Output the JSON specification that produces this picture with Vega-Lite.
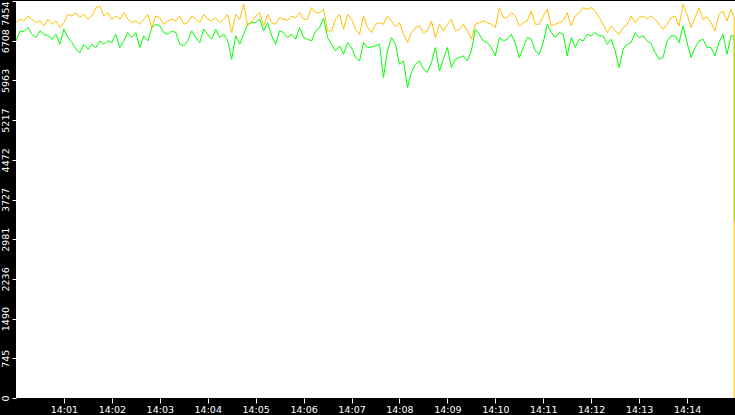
{
  "$schema": "https://vega.github.io/schema/vega-lite/v6.json",
  "width": 735,
  "height": 415,
  "autosize": {"type": "fit", "contains": "padding"},
  "padding": 0,
  "background": "black",
  "config": {
    "view": {"fill": "white", "stroke": null},
    "axis": {"grid": false, "domain": false, "title": null, "labelColor": "white", "tickColor": "white", "labelFont": "DejaVu Sans", "labelFontSize": 9.5, "labelOverlap": false}
  },
  "data": {
    "values": [
      {"s":0,"o":7048,"g":6705},{"s":5,"o":7111,"g":6892},{"s":10,"o":7079,"g":6880},{"s":15,"o":7173,"g":6955},
      {"s":20,"o":7111,"g":6830},{"s":25,"o":7048,"g":6767},{"s":30,"o":7079,"g":6892},{"s":35,"o":6986,"g":6830},
      {"s":40,"o":7111,"g":6799},{"s":45,"o":7017,"g":6736},{"s":50,"o":7079,"g":6830},{"s":55,"o":6955,"g":6642},
      {"s":60,"o":7048,"g":6924},{"s":65,"o":7204,"g":6767},{"s":70,"o":7173,"g":6674},{"s":75,"o":7235,"g":6549},
      {"s":80,"o":7142,"g":6486},{"s":85,"o":7204,"g":6642},{"s":90,"o":7111,"g":6549},{"s":95,"o":7173,"g":6642},
      {"s":100,"o":7329,"g":6580},{"s":105,"o":7360,"g":6705},{"s":110,"o":7173,"g":6642},{"s":115,"o":7235,"g":6705},
      {"s":120,"o":7111,"g":6674},{"s":125,"o":7173,"g":6830},{"s":130,"o":7111,"g":6580},{"s":135,"o":7235,"g":6705},
      {"s":140,"o":7111,"g":6861},{"s":145,"o":7048,"g":6767},{"s":150,"o":7079,"g":6861},{"s":155,"o":7017,"g":6580},
      {"s":160,"o":7111,"g":6799},{"s":165,"o":7204,"g":6705},{"s":170,"o":6955,"g":6955},{"s":175,"o":7173,"g":7017},
      {"s":180,"o":7142,"g":6986},{"s":185,"o":7017,"g":6861},{"s":190,"o":7079,"g":6830},{"s":195,"o":7111,"g":6892},
      {"s":200,"o":7079,"g":6861},{"s":205,"o":7173,"g":6642},{"s":210,"o":7017,"g":6611},{"s":215,"o":7048,"g":6705},
      {"s":220,"o":7173,"g":6892},{"s":225,"o":7111,"g":6767},{"s":230,"o":7048,"g":6674},{"s":235,"o":7204,"g":6924},
      {"s":240,"o":7111,"g":6830},{"s":245,"o":7079,"g":6736},{"s":250,"o":7142,"g":6924},{"s":255,"o":7048,"g":6767},
      {"s":260,"o":7111,"g":6830},{"s":265,"o":7204,"g":6705},{"s":270,"o":6861,"g":6361},{"s":275,"o":7204,"g":6799},
      {"s":280,"o":7111,"g":6642},{"s":285,"o":7392,"g":6830},{"s":290,"o":6986,"g":7017},{"s":295,"o":7079,"g":7048},
      {"s":300,"o":7173,"g":7048},{"s":305,"o":7235,"g":7111},{"s":310,"o":6986,"g":6892},{"s":315,"o":7204,"g":7048},
      {"s":320,"o":7048,"g":6799},{"s":325,"o":7017,"g":6642},{"s":330,"o":7142,"g":6892},{"s":335,"o":7111,"g":6861},
      {"s":340,"o":7092,"g":6767},{"s":345,"o":7173,"g":6830},{"s":350,"o":7142,"g":6736},{"s":355,"o":7235,"g":6955},
      {"s":360,"o":7111,"g":6767},{"s":365,"o":7111,"g":6736},{"s":370,"o":7329,"g":6705},{"s":375,"o":7235,"g":6892},
      {"s":380,"o":7235,"g":6955},{"s":385,"o":7298,"g":7129},{"s":390,"o":6892,"g":6767},{"s":395,"o":6892,"g":6642},
      {"s":400,"o":7111,"g":6518},{"s":405,"o":7204,"g":6611},{"s":410,"o":6924,"g":6455},{"s":415,"o":7204,"g":6674},
      {"s":420,"o":7111,"g":6580},{"s":425,"o":6924,"g":6393},{"s":430,"o":6830,"g":6330},{"s":435,"o":7173,"g":6674},
      {"s":440,"o":6955,"g":6580},{"s":445,"o":6861,"g":6592},{"s":450,"o":7017,"g":6611},{"s":455,"o":7048,"g":6642},
      {"s":460,"o":7017,"g":6018},{"s":465,"o":7173,"g":6518},{"s":470,"o":7079,"g":6767},{"s":475,"o":6967,"g":6642},
      {"s":480,"o":7048,"g":6268},{"s":485,"o":6830,"g":6330},{"s":490,"o":6674,"g":5831},{"s":495,"o":6861,"g":6112},
      {"s":500,"o":6955,"g":6268},{"s":505,"o":6986,"g":6330},{"s":510,"o":6861,"g":6174},{"s":515,"o":6892,"g":6112},
      {"s":520,"o":7079,"g":6299},{"s":525,"o":6767,"g":6580},{"s":530,"o":7017,"g":6143},{"s":535,"o":6892,"g":6361},
      {"s":540,"o":7017,"g":6580},{"s":545,"o":7111,"g":6205},{"s":550,"o":6892,"g":6361},{"s":555,"o":6924,"g":6393},
      {"s":560,"o":7017,"g":6424},{"s":565,"o":6892,"g":6330},{"s":570,"o":6736,"g":6518},{"s":575,"o":7017,"g":6924},
      {"s":580,"o":7048,"g":6830},{"s":585,"o":7079,"g":6705},{"s":590,"o":7048,"g":6674},{"s":595,"o":7017,"g":6580},
      {"s":600,"o":6955,"g":6424},{"s":605,"o":7329,"g":6767},{"s":610,"o":7142,"g":6705},{"s":615,"o":7142,"g":6736},
      {"s":620,"o":7235,"g":6830},{"s":625,"o":7173,"g":6655},{"s":630,"o":6986,"g":6393},{"s":635,"o":7048,"g":6580},
      {"s":640,"o":7079,"g":6767},{"s":645,"o":7267,"g":6736},{"s":650,"o":7017,"g":6518},{"s":655,"o":7017,"g":6455},
      {"s":660,"o":7173,"g":6674},{"s":665,"o":7298,"g":7017},{"s":670,"o":6986,"g":6861},{"s":675,"o":7017,"g":6767},
      {"s":680,"o":7048,"g":6861},{"s":685,"o":7079,"g":6830},{"s":690,"o":7235,"g":6424},{"s":695,"o":6986,"g":6767},
      {"s":700,"o":7173,"g":6580},{"s":705,"o":7235,"g":6736},{"s":710,"o":7329,"g":6705},{"s":715,"o":7298,"g":6830},
      {"s":720,"o":7329,"g":6799},{"s":725,"o":7267,"g":6861},{"s":730,"o":7142,"g":6799},{"s":735,"o":7017,"g":6799},
      {"s":740,"o":6861,"g":6642},{"s":745,"o":6986,"g":6736},{"s":750,"o":6892,"g":6518},{"s":755,"o":6830,"g":6205},
      {"s":760,"o":6955,"g":6549},{"s":765,"o":7017,"g":6642},{"s":770,"o":7173,"g":6674},{"s":775,"o":7048,"g":6861},
      {"s":780,"o":7142,"g":6767},{"s":785,"o":7173,"g":6799},{"s":790,"o":7111,"g":6705},{"s":795,"o":7173,"g":6655},
      {"s":800,"o":7111,"g":6486},{"s":805,"o":7017,"g":6361},{"s":810,"o":6924,"g":6393},{"s":815,"o":7017,"g":6705},
      {"s":820,"o":7142,"g":6799},{"s":825,"o":7173,"g":6799},{"s":830,"o":6986,"g":6674},{"s":835,"o":7392,"g":6986},
      {"s":840,"o":7204,"g":6674},{"s":845,"o":6955,"g":6393},{"s":850,"o":7142,"g":6580},{"s":855,"o":7329,"g":6705},
      {"s":860,"o":7111,"g":6736},{"s":865,"o":7154,"g":6580},{"s":870,"o":7048,"g":6580},{"s":875,"o":6892,"g":6424},
      {"s":880,"o":7204,"g":6674},{"s":885,"o":7267,"g":6830},{"s":890,"o":7079,"g":6455},{"s":895,"o":7298,"g":6799},
      {"s":899,"o":7142,"g":6799},{"s":899,"o":0,"g":3330}
    ]
  },
  "encoding": {
    "x": {
      "field": "s",
      "type": "quantitative",
      "scale": {"domain": [0, 900], "nice": false, "zero": false},
      "axis": {
        "values": [60, 120, 180, 240, 300, 360, 420, 480, 540, 600, 660, 720, 780, 840],
        "labelExpr": "'14:' + (datum.value < 600 ? '0' : '') + (datum.value / 60)",
        "tickSize": 5,
        "labelPadding": 1,
        "minExtent": 17,
        "maxExtent": 17
      }
    }
  },
  "layer": [
    {
      "mark": {"type": "line", "strokeWidth": 1, "clip": true, "color": "#00FF00"},
      "encoding": {
        "y": {
          "field": "g",
          "type": "quantitative",
          "scale": {"domain": [0, 7454], "nice": false},
          "axis": {
            "values": [0, 745.4, 1490.8, 2236.2, 2981.6, 3727, 4472.4, 5217.8, 5963.2, 6708.6, 7454],
            "labelExpr": "floor(datum.value)",
            "labelAngle": 270,
            "labelAlign": {"expr": "datum.value == 7454 ? 'right' : 'center'"},
            "labelBaseline": "bottom",
            "labelOverlap": false,
            "tickSize": 4,
            "labelPadding": 2,
            "minExtent": 15,
            "maxExtent": 15
          }
        }
      }
    },
    {
      "mark": {"type": "line", "strokeWidth": 1, "clip": true, "color": "#FFC000"},
      "encoding": {
        "y": {
          "field": "o",
          "type": "quantitative",
          "axis": {
            "values": [0, 745.4, 1490.8, 2236.2, 2981.6, 3727, 4472.4, 5217.8, 5963.2, 6708.6, 7454],
            "labelExpr": "floor(datum.value)",
            "labelAngle": 270,
            "labelAlign": {"expr": "datum.value == 7454 ? 'right' : 'center'"},
            "labelBaseline": "bottom",
            "labelOverlap": false,
            "tickSize": 4,
            "labelPadding": 2,
            "minExtent": 15,
            "maxExtent": 15
          }
        }
      }
    }
  ]
}
